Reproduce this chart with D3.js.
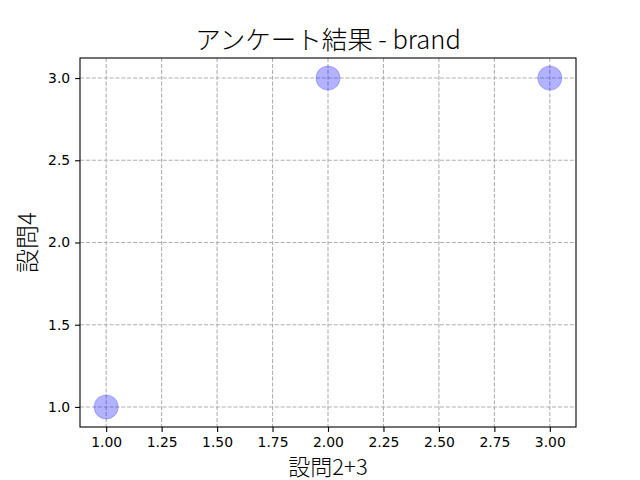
<!DOCTYPE html>
<html><head><meta charset="utf-8">
<script src="https://cdn.jsdelivr.net/npm/d3@7"></script>
<style>body{margin:0;background:#fff}</style>
</head><body>
<svg id="c" width="640" height="480"></svg>
<script>
const xVals = [1, 2, 3];
const yVals = [1, 3, 3];
const xTicks = [1.00, 1.25, 1.50, 1.75, 2.00, 2.25, 2.50, 2.75, 3.00];
const yTicks = [1.0, 1.5, 2.0, 2.5, 3.0];
const title = "アンケート結果 - brand";
const xLabel = "設問2+3";
const yLabel = "設問4";

const svg = d3.select("#c");
const L = 80, R = 576, T = 58, B = 427;
const x = d3.scaleLinear().domain([0.882, 3.118]).range([L, R]);
const y = d3.scaleLinear().domain([0.878, 3.122]).range([B, T]);
const cjk = "'Noto Sans CJK JP', sans-serif";

svg.append("rect").attr("width", 640).attr("height", 480).attr("fill", "#fff");

const grid = svg.append("g").attr("stroke", "#b0b0b0").attr("stroke-width", 1.1).attr("stroke-dasharray", "4.1,1.8");
grid.selectAll(".gx").data(xTicks).join("line")
  .attr("x1", d => x(d)).attr("x2", d => x(d)).attr("y1", T).attr("y2", B);
grid.selectAll(".gy").data(yTicks).join("line")
  .attr("y1", d => y(d)).attr("y2", d => y(d)).attr("x1", L).attr("x2", R);

svg.append("g").selectAll("circle").data(xVals.map((v, i) => [v, yVals[i]])).join("circle")
  .attr("cx", d => x(d[0])).attr("cy", d => y(d[1])).attr("r", 12)
  .attr("fill", "blue").attr("fill-opacity", 0.3)
  .attr("stroke", "blue").attr("stroke-opacity", 0.2).attr("stroke-width", 1.1);

const xAxis = svg.append("g").attr("transform", `translate(0,${B})`)
  .call(d3.axisBottom(x).tickValues(xTicks).tickFormat(d3.format(".2f")).tickSize(4.9).tickPadding(4.9));
const yAxis = svg.append("g").attr("transform", `translate(${L},0)`)
  .call(d3.axisLeft(y).tickValues(yTicks).tickFormat(d3.format(".1f")).tickSize(4.9).tickPadding(4.9));
[xAxis, yAxis].forEach(a => {
  a.select(".domain").remove();
  a.selectAll("line").attr("stroke", "#000").attr("stroke-width", 1.1);
  a.selectAll("text").attr("fill", "#000").style("font-family", "'DejaVu Sans', sans-serif").style("font-size", "13.9px");
});

svg.append("rect").attr("x", L).attr("y", T).attr("width", R - L).attr("height", B - T)
  .attr("fill", "none").attr("stroke", "#000").attr("stroke-width", 1.1);

svg.append("text").attr("x", (L + R) / 2).attr("y", 49).attr("text-anchor", "middle")
  .style("font-family", cjk).style("font-size", "25.5px").style("font-weight", 300).text(title);
svg.append("text").attr("x", (L + R) / 2).attr("y", 475).attr("text-anchor", "middle")
  .style("font-family", cjk).style("font-size", "22px").style("font-weight", 300).text(xLabel);
svg.append("text").attr("transform", `translate(36,${(T + B) / 2}) rotate(-90)`).attr("text-anchor", "middle")
  .style("font-family", cjk).style("font-size", "24px").style("font-weight", 300).text(yLabel);
</script>
</body></html>
